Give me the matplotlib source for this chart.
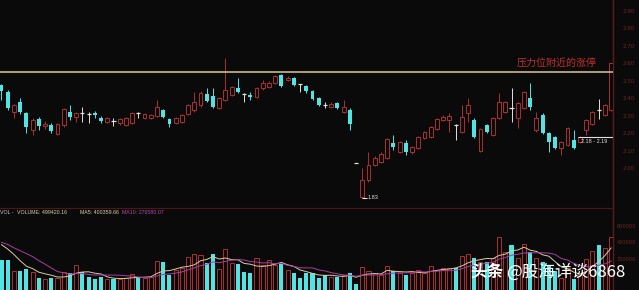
import numpy as np
import pandas as pd
import matplotlib
matplotlib.use('Agg')
import matplotlib.pyplot as plt

# daily candles (price units)
opens = [2.476, 2.436, 2.321, 2.379, 2.316, 2.219, 2.281, 2.241, 2.247, 2.196,
         2.247, 2.321, 2.293, 2.316, 2.310, 2.316, 2.287, 2.264, 2.270, 2.259,
         2.247, 2.259, 2.316, 2.287, 2.287, 2.299, 2.333, 2.281, 2.259, 2.264,
         2.310, 2.333, 2.361, 2.424, 2.413, 2.344, 2.390, 2.419, 2.459, 2.424,
         2.419, 2.407, 2.459, 2.464, 2.487, 2.533, 2.504, 2.516, 2.481, 2.470,
         2.441, 2.401, 2.361, 2.350, 2.373, 2.321, 2.333, 2.030, 1.836, 1.933,
         2.019, 2.036, 2.059, 2.144, 2.093, 2.144, 2.093, 2.116, 2.173, 2.179,
         2.224, 2.276, 2.276, 2.247, 2.207, 2.316, 2.276, 2.098, 2.247, 2.190,
         2.287, 2.321, 2.344, 2.287, 2.344, 2.401, 2.219, 2.304, 2.201, 2.179,
         2.116, 2.133, 2.161, 2.150, 2.219, 2.253, 2.333, 2.304, 2.333]
highs = [2.481, 2.447, 2.367, 2.401, 2.321, 2.287, 2.293, 2.270, 2.259, 2.259,
         2.344, 2.361, 2.321, 2.350, 2.321, 2.327, 2.299, 2.293, 2.287, 2.287,
         2.293, 2.321, 2.321, 2.316, 2.310, 2.390, 2.339, 2.287, 2.293, 2.310,
         2.367, 2.436, 2.441, 2.459, 2.459, 2.407, 2.630, 2.470, 2.516, 2.430,
         2.436, 2.464, 2.504, 2.499, 2.533, 2.539, 2.527, 2.521, 2.481, 2.476,
         2.447, 2.407, 2.379, 2.379, 2.379, 2.390, 2.344, 2.030, 2.001, 2.093,
         2.070, 2.093, 2.173, 2.190, 2.156, 2.161, 2.127, 2.184, 2.213, 2.241,
         2.287, 2.304, 2.316, 2.253, 2.361, 2.401, 2.287, 2.230, 2.253, 2.293,
         2.430, 2.384, 2.459, 2.379, 2.441, 2.487, 2.321, 2.316, 2.207, 2.184,
         2.156, 2.236, 2.219, 2.184, 2.281, 2.327, 2.396, 2.367, 2.600]
lows = [2.390, 2.333, 2.287, 2.310, 2.201, 2.190, 2.219, 2.224, 2.201, 2.190,
        2.236, 2.276, 2.264, 2.264, 2.259, 2.287, 2.259, 2.259, 2.241, 2.247,
        2.241, 2.253, 2.287, 2.281, 2.281, 2.293, 2.287, 2.236, 2.253, 2.259,
        2.304, 2.321, 2.350, 2.379, 2.344, 2.339, 2.384, 2.413, 2.430, 2.379,
        2.390, 2.401, 2.447, 2.459, 2.481, 2.464, 2.499, 2.470, 2.436, 2.430,
        2.390, 2.356, 2.344, 2.344, 2.339, 2.316, 2.219, 2.030, 1.830, 1.921,
        2.013, 2.030, 2.053, 2.104, 2.087, 2.076, 2.081, 2.110, 2.167, 2.173,
        2.219, 2.270, 2.207, 2.161, 2.201, 2.264, 2.173, 2.093, 2.201, 2.184,
        2.281, 2.316, 2.264, 2.230, 2.339, 2.333, 2.207, 2.196, 2.093, 2.110,
        2.076, 2.127, 2.110, 2.144, 2.190, 2.247, 2.281, 2.299, 2.327]
closes = [2.441, 2.344, 2.361, 2.321, 2.236, 2.276, 2.241, 2.253, 2.213, 2.253,
          2.339, 2.293, 2.316, 2.316, 2.310, 2.304, 2.270, 2.287, 2.270, 2.281,
          2.287, 2.316, 2.316, 2.310, 2.304, 2.350, 2.293, 2.253, 2.287, 2.304,
          2.361, 2.379, 2.430, 2.384, 2.350, 2.401, 2.447, 2.464, 2.436, 2.424,
          2.407, 2.459, 2.487, 2.487, 2.527, 2.470, 2.516, 2.476, 2.481, 2.441,
          2.396, 2.361, 2.361, 2.367, 2.344, 2.350, 2.253, 2.030, 1.933, 2.019,
          2.059, 2.081, 2.167, 2.121, 2.150, 2.093, 2.121, 2.179, 2.207, 2.236,
          2.281, 2.293, 2.299, 2.247, 2.293, 2.361, 2.179, 2.224, 2.207, 2.287,
          2.379, 2.379, 2.344, 2.373, 2.436, 2.350, 2.287, 2.201, 2.150, 2.116,
          2.150, 2.230, 2.116, 2.179, 2.276, 2.321, 2.333, 2.361, 2.600]
volumes = [290900, 290900, 190900, 190900, 209100, 181800, 127300, 118200, 127300, 127300,
           181800, 172700, 245400, 181800, 136400, 118200, 136400, 118200, 118200, 118200,
           127300, 163600, 136400, 127300, 136400, 281800, 272700, 154500, 200000, 218200,
           318200, 345400, 336300, 263600, 345400, 209100, 390900, 263600, 254500, 181800,
           172700, 309100, 245400, 290900, 245400, 254500, 200000, 172700, 127300, 172700,
           172700, 127300, 154500, 136400, 136400, 154500, 172700, 72700, 227300, 190900,
           172700, 154500, 236400, 190900, 172700, 154500, 172700, 200000, 172700, 236400,
           200000, 218200, 218200, 218200, 327300, 345400, 309100, 272700, 272700, 309100,
           500000, 363600, 427300, 309100, 436400, 363600, 309100, 272700, 245400, 190000,
           130000, 220000, 120000, 150000, 300000, 372000, 430000, 400000, 499420.16]
# bars just before the visible window (only felt through the MA lines)
volume_before = [480000, 500000, 450000, 470000, 460000, 490000, 440000, 470000, 460000]

price_ticks = [2.0, 2.1, 2.2, 2.3, 2.4, 2.5, 2.6, 2.7, 2.8, 2.9]
volume_ticks = [300000, 450000, 600000]
resistance = 2.55
low_price = 1.83
gap_low = 2.18
gap_text = '2.18 - 2.19'
note_text = '压力位附近的涨停'
vol_header = ['VOL -', 'VOLUME: 499420.16', 'MA5: 400359.66', 'MA10: 276580.07']

BG = '#0b0a0a'
RED = '#ab3030'
CYAN = '#50e4e4'
WHITE = '#e0e0e0'
FRAME = '#5c1c1c'

W, H = 639, 290


def draw_candles(ax):
    o = np.array(opens); h = np.array(highs)
    l = np.array(lows); c = np.array(closes)
    x = np.arange(len(o))
    up = c > o
    down = c < o
    flat = c == o
    ax.vlines(x[up], l[up], h[up], color=RED, lw=0.7, zorder=2)
    ax.bar(x[up], c[up] - o[up], bottom=o[up], width=0.62,
           facecolor=BG, edgecolor=RED, lw=0.7, zorder=3)
    ax.vlines(x[down], l[down], h[down], color=CYAN, lw=0.7, zorder=2)
    ax.bar(x[down], o[down] - c[down], bottom=c[down], width=0.62,
           color=CYAN, lw=0, zorder=3)
    ax.vlines(x[flat], l[flat], h[flat], color=WHITE, lw=0.7, zorder=2)
    ax.hlines(c[flat], x[flat] - 0.33, x[flat] + 0.33, color=WHITE, lw=0.9, zorder=3)


def draw_volume(ax):
    o = np.array(opens); c = np.array(closes)
    v = np.array(volumes)
    x = np.arange(len(v))
    up = c > o
    ax.bar(x[up], v[up], width=0.66, facecolor=BG, edgecolor=RED, lw=0.7, zorder=2)
    ax.bar(x[~up], v[~up], width=0.66, color=CYAN, lw=0, zorder=2)
    full = pd.Series(volume_before + volumes)
    ma5 = full.rolling(5).mean().values[len(volume_before):]
    ma10 = full.rolling(10).mean().values[len(volume_before):]
    ax.plot(x, ma5, color='#d9cc9c', lw=0.7, zorder=4)
    ax.plot(x, ma10, color='#a83ca8', lw=0.7, zorder=4)


def style(ax, pad):
    ax.set_facecolor(BG)
    for side in ['left', 'bottom', 'top']:
        ax.spines[side].set_visible(False)
    ax.spines['right'].set_color(FRAME)
    ax.spines['right'].set_linewidth(1.0)
    ax.set_xticks([])
    ax.yaxis.tick_right()
    ax.tick_params(axis='y', length=0, pad=pad, labelsize=4.0, labelcolor='#6e2626')
    ax.set_xlim(-1.5 / 6.22, 611.5 / 6.22)


def main():
    fig = plt.figure(figsize=(W / 100, H / 100), dpi=100, facecolor=BG)
    ax_p = fig.add_axes([0, 82 / H, 613 / W, 208 / H])
    ax_v = fig.add_axes([0, 0, 613 / W, 82 / H])

    style(ax_p, 7)
    draw_candles(ax_p)
    ax_p.set_ylim(2.9614 - 208 / 175, 2.9614)
    ax_p.set_yticks(price_ticks)
    ax_p.set_yticklabels([f'{t:.2f}' for t in price_ticks])
    ax_p.axhline(resistance, color='#c9b98c', lw=1.2, zorder=5)
    ax_p.text(555 / 6.22, resistance + 0.05, note_text, color='#c23030',
              fontsize=7.2, ha='center', va='center',
              family=['Noto Sans CJK SC', 'DejaVu Sans'])

    # lowest point marker
    i_low = int(np.argmin(lows))
    ax_p.hlines(low_price, i_low, i_low + 0.8, color=WHITE, lw=0.8, zorder=5)
    ax_p.text(i_low + 0.85, low_price, f'{low_price:.2f}', color=WHITE,
              fontsize=4.0, ha='left', va='center', family='Liberation Sans')

    # gap marker
    ax_p.hlines(gap_low, 93 - 0.3, 98.3, color=WHITE, lw=0.8, zorder=5)
    ax_p.text(93.2, gap_low - 0.012, gap_text, color=WHITE, fontsize=4.0,
              ha='left', va='top', family='Liberation Sans')

    style(ax_v, 2.5)
    ax_v.tick_params(axis='y', labelsize=3.6)
    ax_v.spines['top'].set_visible(True)
    ax_v.spines['top'].set_color('#4c1616')
    draw_volume(ax_v)
    ax_v.set_ylim(2 * 9090, 84 * 9090)
    ax_v.set_yticks(volume_ticks)
    ax_v.set_yticklabels([str(t) for t in volume_ticks])

    hx = [0.5, 17, 80, 122]
    hc = ['#c8c8c8', '#d8d0a8', '#d8d0a8', '#b444b4']
    for x0, s, col in zip(hx, vol_header, hc):
        fig.text(x0 / W, 1 - 212 / H, s, color=col, fontsize=3.8,
                 ha='left', va='center', family='Liberation Sans')

    fig.text(470 / W, 1 - 272 / H, '头条', color='white', fontsize=12,
             weight='bold', ha='left', va='center',
             family=['Noto Sans CJK SC', 'DejaVu Sans'])
    fig.text(506 / W, 1 - 272 / H, '@股海详谈6868', color='white', fontsize=12,
             ha='left', va='center', family=['Noto Sans CJK SC', 'DejaVu Sans'])

    fig.savefig('out.png', dpi=100, facecolor=BG)


if __name__ == '__main__':
    main()
